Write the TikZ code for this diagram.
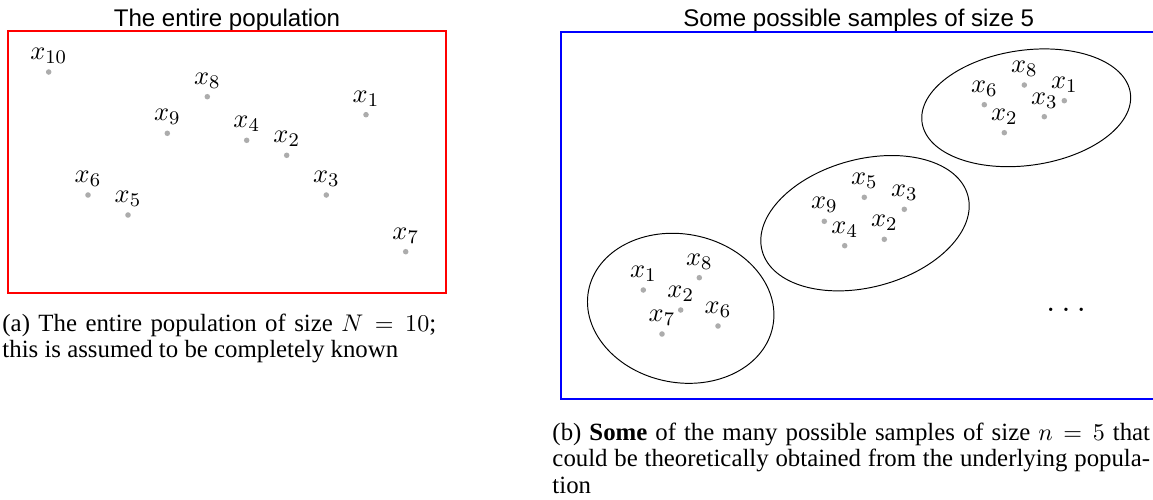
\documentclass[tikz,border=0pt]{standalone}
\usepackage{amsmath}
\usepackage[no-math]{fontspec}
\setmainfont{Liberation Serif}
\newfontfamily\titlefont{Liberation Sans}
\usetikzlibrary{shapes.geometric}

\begin{document}
\begin{tikzpicture}[x=0.415pt,y=-0.415pt,
  dot/.style={circle,fill=gray!65,inner sep=0pt,minimum size=2.3pt},
  lbl/.style={inner sep=0pt,label distance=2pt,font=\fontsize{11}{13}\selectfont},
  smp/.style={draw,ellipse,inner sep=0pt},
  ttl/.style={anchor=base,inner sep=0pt,font=\titlefont},
  captxt/.style={anchor=base west,inner sep=0pt,align=justify,
    font=\fontsize{10.3}{11.2}\selectfont}]
  \useasboundingbox (0,0) rectangle (1153,499);

  % the population
  \node[ttl] (poptitle) at (227,26) {The entire population};
  \draw[red,line width=0.75pt] (8.3,31) rectangle (445.7,293.3);
  \foreach \n/\px/\py in {1/366/114.7, 2/286.7/155.3, 3/326.3/195, 4/246.7/140.3,
                          5/128/215, 6/88/195, 7/405.7/251.7, 8/207.3/96.7,
                          9/167.3/133.3, 10/48.7/72}
    \node[dot,label={[lbl]above:$x_{\n}$}] (x\n) at (\px,\py) {};

  % some samples
  \node[ttl] (samptitle) at (858.7,26.5) {Some possible samples of size 5};
  \draw[blue,line width=0.75pt] (1153,32.3) -- (560.7,32.3) -- (560.7,399.3) -- (1153,399.3);
  \node[smp,minimum width=77.9pt,minimum height=61.6pt,rotate=-11] (s1) at (680.7,308.3) {};
  \node[smp,minimum width=88.4pt,minimum height=53.1pt,rotate=15] (s2) at (865,223.2) {};
  \node[smp,minimum width=87.3pt,minimum height=47.8pt,rotate=8] (s3) at (1026.2,107.8) {};
  \foreach \s/\n/\px/\py in {1/1/643.3/290, 1/8/699.3/277.7, 1/2/680.7/310, 1/7/662/334,
                             1/6/718/326, 2/5/864.3/197.3, 2/3/904.3/209.3, 2/9/824.3/221.3,
                             2/4/844.7/245.7, 2/2/884.3/239.3, 3/8/1024.3/85, 3/1/1064.3/100.7,
                             3/6/984.3/104.7, 3/3/1044.3/116.7, 3/2/1004.3/132.7}
    \node[dot,label={[lbl]above:$x_{\n}$}] (s\s-\n) at (\px,\py) {};
  \node[anchor=base,inner sep=0pt,font=\Large] (more) at (1069,311.5) {$\dots$};

  % captions
  \node[captxt,text width=180pt] (capa) at (2,331)
    {(a) The entire population of size $N=10$; this is assumed to be completely known};
  \node[captxt,text width=248pt] (capb) at (552,440)
    {(b) \textbf{Some} of the many possible samples of size $n=5$ that\linebreak
     could be theoretically obtained from the underlying popula-\linebreak tion};
\end{tikzpicture}
\end{document}
